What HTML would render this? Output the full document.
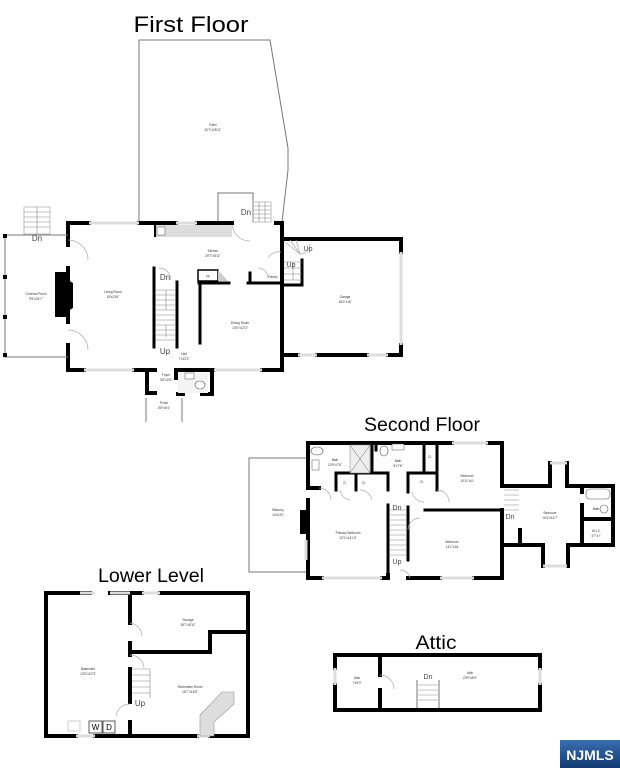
<!DOCTYPE html>
<html><head><meta charset="utf-8"><style>
html,body{margin:0;padding:0;background:#fff;}
svg{display:block;}
text{font-family:"Liberation Sans",sans-serif;}
.t{font-size:3.2px;fill:#333;text-anchor:middle;}
.w{stroke:#000;stroke-width:4;fill:none;stroke-linecap:square;}
.w3{stroke:#000;stroke-width:3;fill:none;stroke-linecap:square;}
.th{stroke:#777;stroke-width:1;fill:none;}
.win{stroke:#ddd;stroke-width:3;fill:none;}
.dr{stroke:#aaa;stroke-width:0.7;fill:none;}
.st{stroke:#888;stroke-width:0.6;fill:none;}
</style></head><body>
<svg width="620" height="768" viewBox="0 0 620 768" xmlns="http://www.w3.org/2000/svg">
<rect width="620" height="768" fill="#fff"/>

<!-- ============ FIRST FLOOR ============ -->
<text x="191" y="32" font-size="22" text-anchor="middle" fill="#000" textLength="115" lengthAdjust="spacingAndGlyphs">First Floor</text>
<polyline class="th" points="139,222 139,40 270,40 288,148 288,170 282,222"/>
<text class="t" x="213" y="126">Patio</text><text class="t" x="213" y="131">20'7"x28'11"</text>
<polyline class="th" points="218,222 218,193 253,193 253,222"/>
<rect x="253" y="202" width="18" height="20" fill="none" stroke="#999" stroke-width="0.6"/>
<path class="st" d="M253,206h18M253,210h18M253,214h18M253,218h18M259,202v20M265,202v20"/>
<text x="246" y="215" font-size="8" fill="#444" text-anchor="middle">Dn</text>
<path class="dr" d="M232,223 A18,18 0 0 0 250,241"/>
<path class="w" d="M68,223H89M139,223H176M197,223H232M276,223H282V370H262M213,370H176M155,370H134M84,370H68V345M68,322V268M68,245V223"/>
<path class="win" d="M89,223H139M176,223H197M213,370H262M84,370H134"/>
<path class="dr" d="M68,240 A20,20 0 0 1 88,260 M68,330 A20,20 0 0 1 88,350"/>
<rect x="55" y="272" width="13" height="45" fill="#000"/>
<path d="M68,280 l5,3 v25 l-5,3z" fill="#000"/>
<rect x="154" y="225" width="78" height="12" fill="#ddd"/>
<rect x="157" y="227" width="8" height="8" fill="#fff" stroke="#555" stroke-width="0.5"/>
<rect x="154" y="223" width="2" height="14" fill="#000"/>
<path class="w3" d="M154,268V347M177,282V347"/>
<path class="st" d="M156,290h20M156,295h20M156,300h20M156,305h20M156,310h20M156,315h20M156,320h20M156,325h20M156,330h20M156,335h20M156,340h20M166,290V310M166,325V337"/>
<text x="165" y="280" font-size="8" fill="#444" text-anchor="middle">Dn</text>
<text x="165" y="354" font-size="8" fill="#444" text-anchor="middle">Up</text>
<path class="dr" d="M159,268 A12,12 0 0 1 171,280"/>
<path class="w3" d="M200,283V343M199,283H229M248,283H281M250,273V283"/>
<rect x="198" y="270" width="20" height="11" fill="#fff" stroke="#000" stroke-width="1.5"/>
<text x="208" y="277.5" font-size="3" text-anchor="middle">FF</text>
<path d="M218,270 l10,11h-10z" fill="#ccc"/>
<text class="t" x="213" y="252">Kitchen</text><text class="t" x="213" y="257">29'7"x8'11"</text>
<text class="t" x="273" y="278">Pantry</text>
<path class="dr" d="M258,268 A10,10 0 0 1 268,278"/>
<text class="t" x="113" y="293">Living Room</text><text class="t" x="113" y="298">15'x23'6"</text>
<text class="t" x="240" y="324">Dining Room</text><text class="t" x="240" y="329">13'0"x13'3"</text>
<text class="t" x="184" y="355">Hall</text><text class="t" x="184" y="360">7'x13'3"</text>
<polyline class="th" points="68,235 5,235 5,357 68,357"/>
<rect x="3" y="234" width="4" height="4" fill="#000"/><rect x="3" y="275" width="4" height="4" fill="#000"/><rect x="3" y="315" width="4" height="4" fill="#000"/><rect x="3" y="353" width="4" height="4" fill="#000"/>
<rect x="24" y="207" width="26" height="27" fill="none" stroke="#999" stroke-width="0.6"/>
<path class="st" d="M24,212h26M24,217h26M24,222h26M24,227h26M37,207v27"/>
<text x="37" y="241" font-size="8" fill="#444" text-anchor="middle">Dn</text>
<text class="t" x="36" y="295">Covered Porch</text><text class="t" x="36" y="300">9'9"x24'7"</text>
<path class="w" d="M147,370V393H155M176,370H212V394H202M176,370V378M178,394H183"/>
<rect x="178" y="373" width="30" height="20" fill="#f4f4f4"/>
<ellipse cx="200" cy="385" rx="5" ry="4" fill="#fff" stroke="#555" stroke-width="0.6"/>
<rect x="185" y="373" width="9" height="6" fill="#fff" stroke="#555" stroke-width="0.5"/>
<text class="t" x="166" y="376">Foyer</text><text class="t" x="166" y="381">3'8"x2'8"</text>
<path class="th" d="M146,398V422M182,398V422"/>
<text class="t" x="164" y="404">Porch</text><text class="t" x="164" y="409">5'8"x4'4"</text>
<path class="w" d="M282,239H401V252M401,345V355H388M367,355H317M298,355H282"/>
<path class="win" d="M401,252V345M388,355H367M317,355H298"/>
<path class="w3" d="M282,239V285H302V260"/>
<path class="st" d="M284,262h18M284,268h18M284,274h18M284,280h18M293,262V280"/>
<path class="dr" d="M285,242 L300,254 M290,240 L300,254 M296,240 L300,254 A10,10 0 0 0 310,244"/>
<text x="308" y="251" font-size="7" fill="#444" text-anchor="middle">Up</text>
<text x="291" y="267" font-size="7" fill="#444" text-anchor="middle">Up</text>
<path class="dr" d="M268,258 A12,12 0 0 1 281,252"/>
<text class="t" x="345" y="298">Garage</text><text class="t" x="345" y="303">18'4"x18'</text>

<!-- ============ SECOND FLOOR ============ -->
<text x="422" y="431" font-size="19" text-anchor="middle" fill="#000" textLength="116" lengthAdjust="spacingAndGlyphs">Second Floor</text>
<polyline class="th" points="307,458 249,458 249,572 307,572"/>
<text class="t" x="278" y="511">Balcony</text><text class="t" x="278" y="516">10'x19'1</text>
<path class="w" d="M452,443H308V488H319M308,500V578H322M382,578H388V575M408,578H440M474,578H502V510M502,485V443H488"/>
<path class="win" d="M452,443H488M322,578H382M440,578H474M306,540V560"/>
<rect x="300" y="510" width="7" height="24" fill="#000"/>
<path class="w3" d="M336,473V490M336,473H388V490M356,473V490M372,443V473M408,473V492M408,473H437V490M424,443V473M437,443V473M425,510H502M388,505V578M408,507V560M370,443H376V450"/>
<rect x="350" y="445" width="20" height="28" fill="#eee" stroke="#888" stroke-width="0.5"/>
<path class="st" d="M350,445L370,473M370,445L350,473"/>
<ellipse cx="317" cy="451" rx="6" ry="4" fill="#fff" stroke="#555" stroke-width="0.6"/>
<rect x="312" y="460" width="7" height="10" fill="#fff" stroke="#555" stroke-width="0.5"/>
<ellipse cx="384" cy="451" rx="4" ry="5" fill="#fff" stroke="#555" stroke-width="0.6"/>
<rect x="392" y="444" width="12" height="6" fill="#fff" stroke="#555" stroke-width="0.5"/>
<path class="st" d="M390,510h16M390,515h16M390,520h16M390,525h16M390,530h16M390,535h16M390,540h16M390,545h16M390,550h16M390,555h16"/>
<text x="397" y="510" font-size="7" fill="#444" text-anchor="middle">Dn</text>
<text x="397" y="564" font-size="7" fill="#444" text-anchor="middle">Up</text>
<path class="dr" d="M319,488 A12,12 0 0 1 331,500 M340,490 A12,12 0 0 0 350,500 M360,490 A12,12 0 0 1 372,500 M412,492 A12,12 0 0 0 424,502 M437,490 A12,12 0 0 1 449,502 M408,530 A12,12 0 0 1 420,518 M400,570 A10,10 0 0 1 410,578"/>
<text class="t" x="335" y="461">Bath</text><text class="t" x="335" y="466">10'9"x7'6"</text>
<text class="t" x="398" y="462">Bath</text><text class="t" x="398" y="467">8'x7'6"</text>
<text class="t" x="345" y="484">Cl.</text><text class="t" x="364" y="484">Cl.</text><text class="t" x="422" y="483">Cl.</text><text class="t" x="430" y="458">Cl.</text>
<text class="t" x="467" y="477">Bedroom</text><text class="t" x="467" y="482">10'11"x11</text>
<text class="t" x="348" y="534">Primary Bedroom</text><text class="t" x="348" y="539">13'1"x14'10"</text>
<text class="t" x="452" y="543">Bedroom</text><text class="t" x="452" y="548">14'1"x18</text>
<path class="w" d="M502,486H550V463M567,463V486H613V545H568V566M543,566V545H502V578M520,530V545M582,486V492M582,505V545M582,519H613"/>
<path class="win" d="M550,463H567M543,566H567"/>
<path class="st" d="M504,490h15M504,495h15M504,500h15M504,505h15M504,510h15"/>
<text x="510" y="519" font-size="7" fill="#444" text-anchor="middle">Dn</text>
<rect x="586" y="489" width="24" height="10" rx="4" fill="#fff" stroke="#555" stroke-width="0.6"/>
<ellipse cx="604" cy="509" rx="4" ry="4" fill="#fff" stroke="#555" stroke-width="0.6"/>
<text class="t" x="550" y="514">Bedroom</text><text class="t" x="550" y="519">10'4"x14'7"</text>
<text class="t" x="596" y="532">W-I-C</text><text class="t" x="596" y="537">4'7"x7'</text>
<text class="t" x="596" y="510">Bath</text>

<!-- ============ LOWER LEVEL ============ -->
<text x="151" y="582" font-size="19" text-anchor="middle" fill="#000" textLength="106" lengthAdjust="spacingAndGlyphs">Lower Level</text>
<path class="w" d="M80,593H46V736H76M95,736H130M130,736V722M130,702V669M130,655V643M130,623V593H110M90,593H80M130,593H142M160,593H248V736H210M197,736H130M130,652H210V632H248"/>
<path class="win" d="M80,593H95M110,593H130M142,593H160M76,736H95M197,736H210"/>
<path class="st" d="M132,669h18M132,675h18M132,681h18M132,687h18M132,693h18M150,669V698"/>
<text x="140" y="706" font-size="8" fill="#444" text-anchor="middle">Up</text>
<path class="dr" d="M130,623 A14,14 0 0 1 142,636 M130,655 A14,14 0 0 1 144,668 M116,716 A14,14 0 0 1 130,704"/>
<rect x="68" y="721" width="12" height="10" fill="#fff" stroke="#bbb" stroke-width="0.7"/>
<rect x="89" y="721" width="13" height="12" fill="#fff" stroke="#333" stroke-width="0.8"/>
<rect x="103" y="721" width="12" height="12" fill="#fff" stroke="#333" stroke-width="0.8"/>
<text x="95.5" y="730" font-size="8" text-anchor="middle">W</text>
<text x="109" y="730" font-size="8" text-anchor="middle">D</text>
<path d="M200,736V715L222,692H234V704L214,722V736Z" fill="#ddd" stroke="#999" stroke-width="0.6"/>
<text class="t" x="188" y="621">Storage</text><text class="t" x="188" y="626">18'7"x8'11"</text>
<text class="t" x="88" y="670">Basement</text><text class="t" x="88" y="675">13'5"x22'3"</text>
<text class="t" x="190" y="688">Recreation Room</text><text class="t" x="190" y="693">18'7"x16'8"</text>

<!-- ============ ATTIC ============ -->
<text x="436" y="649" font-size="19" text-anchor="middle" fill="#000" textLength="41" lengthAdjust="spacingAndGlyphs">Attic</text>
<path class="w" d="M335,655H540V668M540,685V710H335V685M335,668V655M380,655V675M380,690V710"/>
<path class="win" d="M540,668V685M335,668V685"/>
<path class="dr" d="M380,675 A14,14 0 0 1 394,689"/>
<path class="th" d="M417,680V708M439,680V708"/>
<path class="st" d="M418,685h20M418,690h20M418,695h20M418,700h20"/>
<text x="428" y="679" font-size="7" fill="#444" text-anchor="middle">Dn</text>
<text class="t" x="357" y="679">Attic</text><text class="t" x="357" y="684">7'x9'3"</text>
<text class="t" x="470" y="674">Attic</text><text class="t" x="470" y="679">23'9"x8'5"</text>

<defs><linearGradient id="g" x1="0" y1="0" x2="0" y2="1"><stop offset="0" stop-color="#3a6fb0"/><stop offset="1" stop-color="#123a72"/></linearGradient></defs>
<rect x="560" y="740" width="60" height="28" fill="url(#g)"/>
<text x="590" y="760" font-size="14" font-weight="bold" fill="#fff" text-anchor="middle">NJMLS</text>
</svg>
</body></html>
